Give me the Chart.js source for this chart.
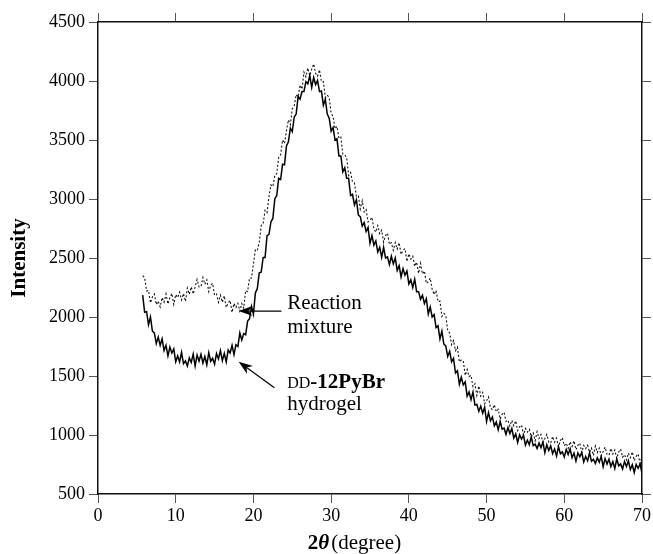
<!DOCTYPE html>
<html>
<head>
<meta charset="utf-8">
<script src="https://cdn.jsdelivr.net/npm/chart.js@4.4.1/dist/chart.umd.min.js"></script>
<style>
  html, body { margin: 0; padding: 0; background: #fff; }
  #wrap { width: 653px; height: 554px; }
</style>
</head>
<body>
<div id="wrap"><canvas id="xrd" width="653" height="554"></canvas></div>
<script>
// 2-theta positions (degree), one row = 2 degrees
const angles = [
  5.75,
  6, 6.25, 6.5, 6.75, 7, 7.25, 7.5, 7.75,
  8, 8.25, 8.5, 8.75, 9, 9.25, 9.5, 9.75,
  10, 10.25, 10.5, 10.75, 11, 11.25, 11.5, 11.75,
  12, 12.25, 12.5, 12.75, 13, 13.25, 13.5, 13.75,
  14, 14.25, 14.5, 14.75, 15, 15.25, 15.5, 15.75,
  16, 16.25, 16.5, 16.75, 17, 17.25, 17.5, 17.75,
  18, 18.25, 18.5, 18.75, 19, 19.25, 19.5, 19.75,
  20, 20.25, 20.5, 20.75, 21, 21.25, 21.5, 21.75,
  22, 22.25, 22.5, 22.75, 23, 23.25, 23.5, 23.75,
  24, 24.25, 24.5, 24.75, 25, 25.25, 25.5, 25.75,
  26, 26.25, 26.5, 26.75, 27, 27.25, 27.5, 27.75,
  28, 28.25, 28.5, 28.75, 29, 29.25, 29.5, 29.75,
  30, 30.25, 30.5, 30.75, 31, 31.25, 31.5, 31.75,
  32, 32.25, 32.5, 32.75, 33, 33.25, 33.5, 33.75,
  34, 34.25, 34.5, 34.75, 35, 35.25, 35.5, 35.75,
  36, 36.25, 36.5, 36.75, 37, 37.25, 37.5, 37.75,
  38, 38.25, 38.5, 38.75, 39, 39.25, 39.5, 39.75,
  40, 40.25, 40.5, 40.75, 41, 41.25, 41.5, 41.75,
  42, 42.25, 42.5, 42.75, 43, 43.25, 43.5, 43.75,
  44, 44.25, 44.5, 44.75, 45, 45.25, 45.5, 45.75,
  46, 46.25, 46.5, 46.75, 47, 47.25, 47.5, 47.75,
  48, 48.25, 48.5, 48.75, 49, 49.25, 49.5, 49.75,
  50, 50.25, 50.5, 50.75, 51, 51.25, 51.5, 51.75,
  52, 52.25, 52.5, 52.75, 53, 53.25, 53.5, 53.75,
  54, 54.25, 54.5, 54.75, 55, 55.25, 55.5, 55.75,
  56, 56.25, 56.5, 56.75, 57, 57.25, 57.5, 57.75,
  58, 58.25, 58.5, 58.75, 59, 59.25, 59.5, 59.75,
  60, 60.25, 60.5, 60.75, 61, 61.25, 61.5, 61.75,
  62, 62.25, 62.5, 62.75, 63, 63.25, 63.5, 63.75,
  64, 64.25, 64.5, 64.75, 65, 65.25, 65.5, 65.75,
  66, 66.25, 66.5, 66.75, 67, 67.25, 67.5, 67.75,
  68, 68.25, 68.5, 68.75, 69, 69.25, 69.5, 69.75,
  70
];

// DD-12PyBr hydrogel (solid)
const hydrogel = [
  2185,
  2040, 2045, 1935, 2000, 1880, 1865, 1775, 1830,
  1760, 1815, 1715, 1760, 1670, 1745, 1695, 1730,
  1620, 1670, 1620, 1700, 1605, 1628, 1585, 1653,
  1615, 1685, 1585, 1677, 1625, 1683, 1610, 1665,
  1595, 1698, 1625, 1650, 1600, 1690, 1645, 1715,
  1630, 1692, 1620, 1720, 1695, 1760, 1680, 1765,
  1750, 1865, 1805, 1860, 1850, 1965, 1985, 2090,
  2025, 2205, 2240, 2375, 2380, 2505, 2505, 2690,
  2700, 2805, 2835, 3000, 3030, 3175, 3165, 3295,
  3290, 3450, 3485, 3600, 3570, 3695, 3720, 3870,
  3845, 3910, 3910, 3995, 3975, 4045, 3945, 4030,
  3970, 4005, 3910, 3915, 3795, 3845, 3720, 3685,
  3575, 3605, 3500, 3510, 3365, 3365, 3230, 3265,
  3175, 3175, 3030, 3040, 2950, 2995, 2865, 2850,
  2770, 2800, 2725, 2760, 2625, 2690, 2610, 2645,
  2550, 2590, 2505, 2590, 2500, 2510, 2445, 2515,
  2450, 2500, 2395, 2435, 2340, 2410, 2355, 2390,
  2280, 2315, 2250, 2320, 2215, 2215, 2150, 2185,
  2115, 2155, 2025, 2085, 2000, 2020, 1910, 1925,
  1815, 1880, 1770, 1755, 1665, 1710, 1620, 1650,
  1525, 1545, 1430, 1490, 1425, 1450, 1330, 1365,
  1300, 1365, 1255, 1260, 1200, 1245, 1185, 1235,
  1115, 1190, 1120, 1153, 1078, 1111, 1044, 1116,
  1049, 1058, 1006, 1063, 1012, 1055, 974, 1010,
  937, 1002, 966, 998, 915, 956, 918, 984,
  910, 923, 885, 931, 893, 940, 851, 918,
  869, 908, 843, 882, 821, 901, 841, 857,
  814, 878, 834, 883, 807, 847, 779, 848,
  816, 852, 772, 817, 781, 849, 777, 794,
  758, 806, 770, 819, 731, 800, 754, 795,
  733, 774, 716, 797, 739, 755, 711, 776,
  732, 781, 707, 748, 682, 750, 718, 755,
  675
];

// Reaction mixture (dotted)
const reactionMix = [
  2350,
  2335, 2220, 2225, 2120, 2170, 2195, 2105, 2135,
  2085, 2165, 2125, 2195, 2110, 2165, 2200, 2107,
  2190, 2165, 2210, 2145, 2200, 2132, 2245, 2192,
  2255, 2195, 2255, 2318, 2255, 2257, 2335, 2277,
  2315, 2215, 2270, 2285, 2185, 2195, 2125, 2185,
  2125, 2180, 2080, 2120, 2140, 2040, 2115, 2080,
  2115, 2050, 2115, 2075, 2225, 2215, 2330, 2330,
  2450, 2570, 2565, 2630, 2775, 2790, 2905, 2885,
  3020, 3120, 3105, 3200, 3215, 3355, 3375, 3500,
  3470, 3580, 3670, 3630, 3765, 3790, 3885, 3865,
  3965, 3930, 4075, 4035, 4110, 4045, 4100, 4145,
  4065, 4040, 4095, 3995, 3995, 3860, 3880, 3860,
  3725, 3700, 3595, 3615, 3515, 3525, 3380, 3375,
  3350, 3200, 3225, 3145, 3135, 3020, 3025, 2915,
  2985, 2890, 2910, 2805, 2820, 2845, 2745, 2720,
  2775, 2705, 2735, 2635, 2690, 2710, 2615, 2630,
  2565, 2630, 2575, 2630, 2530, 2565, 2580, 2470,
  2535, 2490, 2515, 2430, 2465, 2370, 2455, 2365,
  2390, 2285, 2300, 2330, 2235, 2190, 2225, 2130,
  2135, 2005, 2030, 2015, 1885, 1865, 1765, 1800,
  1715, 1745, 1620, 1635, 1630, 1505, 1555, 1495,
  1505, 1410, 1435, 1335, 1415, 1330, 1360, 1265,
  1290, 1322, 1230, 1214, 1256, 1197, 1218, 1135,
  1176, 1192, 1115, 1126, 1074, 1124, 1078, 1120,
  1038, 1069, 1084, 1000, 1055, 1024, 1048, 984,
  1017, 951, 1028, 970, 1004, 939, 970, 1005,
  940, 932, 988, 940, 973, 901, 953, 978,
  910, 930, 886, 943, 903, 951, 875, 912,
  932, 852, 912, 885, 913, 853, 889, 826,
  906, 851, 889, 826, 860, 897, 835, 828,
  886, 839, 873, 802, 856, 880, 812, 833,
  789, 846, 808, 857, 783, 819, 839, 760,
  820
];

const xTicks = [0, 10, 20, 30, 40, 50, 60, 70];
const yTicks = [500, 1000, 1500, 2000, 2500, 3000, 3500, 4000, 4500];

const SERIF = "'Liberation Serif', 'Times New Roman', serif";

const toPoints = vals => vals.map((v, i) => ({ x: angles[i], y: v }));

function drawArrow(ctx, x1, y1, x2, y2) {
  const a = Math.atan2(y2 - y1, x2 - x1);
  const head = 14, half = 5;
  const c = Math.cos(a), s = Math.sin(a);
  ctx.beginPath();
  ctx.moveTo(x1, y1);
  ctx.lineTo(x2 - c * head * 0.7, y2 - s * head * 0.7);
  ctx.stroke();
  ctx.beginPath();
  ctx.moveTo(x2, y2);
  ctx.lineTo(x2 - head * c + half * s, y2 - head * s - half * c);
  ctx.lineTo(x2 - head * 0.7 * c, y2 - head * 0.7 * s);
  ctx.lineTo(x2 - head * c - half * s, y2 - head * s + half * c);
  ctx.closePath();
  ctx.fill();
}

// arrows, labels and the mixed-font x title
const annotate = {
  id: 'annotate',
  afterDraw(chart) {
    const { ctx } = chart;
    const px = v => chart.scales.x.getPixelForValue(v);
    const py = v => chart.scales.y.getPixelForValue(v);
    ctx.save();
    ctx.fillStyle = '#000';
    ctx.strokeStyle = '#000';
    ctx.lineWidth = 1.2;

    drawArrow(ctx, px(23.6), py(2050), px(18.1), py(2050));
    drawArrow(ctx, px(22.7), py(1400), px(18.1), py(1620));

    ctx.textAlign = 'left';
    ctx.textBaseline = 'alphabetic';
    const lx = px(24.35);
    ctx.font = `21px ${SERIF}`;
    ctx.fillText('Reaction', lx, py(2068));
    ctx.fillText('mixture', lx, py(1864));
    ctx.fillText('hydrogel', lx, py(1215));
    ctx.font = `16px ${SERIF}`;
    ctx.fillText('DD', lx, py(1398));
    const w = ctx.measureText('DD').width;
    ctx.font = `bold 21px ${SERIF}`;
    ctx.fillText('-12PyBr', lx + w, py(1398));

    // x axis title: 2θ (degree)
    const parts = [
      { t: '2', f: `bold 21px ${SERIF}` },
      { t: '\u03B8', f: `italic bold 21px ${SERIF}` },
      { t: '(degree)', f: `21px ${SERIF}`, gap: 2 }
    ];
    let total = 0;
    parts.forEach(p => { ctx.font = p.f; p.w = ctx.measureText(p.t).width; total += p.w + (p.gap || 0); });
    let x = px(33) - total / 2;
    const base = chart.height - 5;
    parts.forEach(p => {
      x += p.gap || 0;
      ctx.font = p.f;
      ctx.fillText(p.t, x, base);
      x += p.w;
    });
    ctx.restore();
  }
};

const tickFont = { family: SERIF, size: 18 };
const gridOpts = { drawOnChartArea: false, drawTicks: true, tickLength: 9, color: '#555', lineWidth: 1 };
const borderOpts = { display: true, color: '#111', width: 1.5 };
const plainLabel = v => String(v);

new Chart(document.getElementById('xrd').getContext('2d'), {
  type: 'line',
  data: {
    datasets: [
      {
        label: 'DD-12PyBr hydrogel',
        data: toPoints(hydrogel),
        borderColor: '#000',
        borderWidth: 1.5,
        pointRadius: 0,
        tension: 0,
        xAxisID: 'x',
        yAxisID: 'y'
      },
      {
        label: 'Reaction mixture',
        data: toPoints(reactionMix),
        borderColor: '#111',
        borderWidth: 1.1,
        borderDash: [2, 2],
        pointRadius: 0,
        tension: 0,
        xAxisID: 'x',
        yAxisID: 'y'
      }
    ]
  },
  options: {
    responsive: false,
    animation: false,
    layout: { padding: 0 },
    plugins: { legend: { display: false }, tooltip: { enabled: false } },
    scales: {
      x: {
        type: 'linear', position: 'bottom',
        min: xTicks[0], max: xTicks[xTicks.length - 1],
        afterBuildTicks: s => { s.ticks = xTicks.map(v => ({ value: v })); },
        ticks: { font: tickFont, color: '#000', padding: 2, maxRotation: 0, callback: plainLabel },
        grid: gridOpts, border: borderOpts,
        afterFit: s => { s.height = 60; }
      },
      x2: {
        type: 'linear', position: 'top',
        min: xTicks[0], max: xTicks[xTicks.length - 1],
        afterBuildTicks: s => { s.ticks = xTicks.map(v => ({ value: v })); },
        ticks: { display: false },
        grid: gridOpts, border: borderOpts,
        afterFit: s => { s.height = 22; }
      },
      y: {
        type: 'linear', position: 'left',
        min: yTicks[0], max: yTicks[yTicks.length - 1],
        afterBuildTicks: s => { s.ticks = yTicks.map(v => ({ value: v })); },
        ticks: { font: tickFont, color: '#000', padding: 4, callback: plainLabel },
        grid: gridOpts, border: borderOpts,
        title: { display: true, text: 'Intensity', color: '#000', font: { family: SERIF, size: 21, weight: 'bold' }, padding: { top: 7, bottom: 0 } },
        afterFit: s => { s.width = 98; }
      },
      y2: {
        type: 'linear', position: 'right',
        min: yTicks[0], max: yTicks[yTicks.length - 1],
        afterBuildTicks: s => { s.ticks = yTicks.map(v => ({ value: v })); },
        ticks: { display: false },
        grid: gridOpts, border: borderOpts,
        afterFit: s => { s.width = 10; }
      }
    }
  },
  plugins: [annotate]
});
</script>
</body>
</html>
